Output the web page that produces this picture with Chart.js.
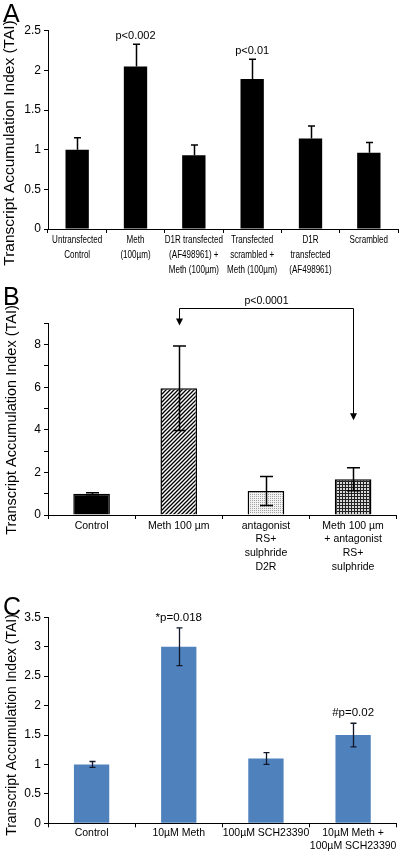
<!DOCTYPE html>
<html>
<head>
<meta charset="utf-8">
<script src="https://cdn.jsdelivr.net/npm/chart.js@4.4.1/dist/chart.umd.min.js"></script>
<style>
    body { margin: 0; background: #fff; }
    canvas { display: block; }
</style>
</head>
<body>
<canvas id="chartA" width="400" height="280"></canvas>
<canvas id="chartB" width="400" height="298"></canvas>
<canvas id="chartC" width="400" height="278"></canvas>
<script>
// panel A
const labelsA = [['Untransfected', 'Control'], ['Meth', '(100µm)'], ['D1R transfected', '(AF498961) +', 'Meth (100µm)'],
    ['Transfected', 'scrambled +', 'Meth (100µm)'], ['D1R', 'transfected', '(AF498961)'], 'Scrambled'];
const valuesA = [1.0, 2.05, 0.93, 1.89, 1.14, 0.96];
const errorsA = [0.15, 0.28, 0.13, 0.25, 0.16, 0.13];
const notesA = ['', 'p<0.002', '', 'p<0.01', '', ''];
const ticksA = [0, 0.5, 1, 1.5, 2, 2.5];
const tickLabelsA = ['0', '0.5', '1', '1.5', '2', '2.5'];

// panel B
const labelsB = ['Control', 'Meth 100 µm', ['antagonist', 'RS+', 'sulphride', 'D2R'], ['Meth 100 µm', '+ antagonist', 'RS+', 'sulphride']];
const valuesB = [1.0, 5.95, 1.13, 1.68];
const errorsB = [0.05, 1.98, 0.68, 0.54];
const ticksB = [0, 1, 2, 3, 4, 5, 6, 7, 8, 9];
const tickLabelsB = ['0', '', '2', '', '4', '', '6', '', '8', ''];
const bracketB = { from: 1, to: 3, top: 9.7, ends: [8.9, 4.45], text: 'p<0.0001', textAt: 10.06 };

// panel C
const labelsC = ['Control', '10µM Meth', '100µM SCH23390', ['10µM Meth +', '100µM SCH23390']];
const valuesC = [1.0, 3.0, 1.1, 1.5];
const errorsC = [0.05, 0.32, 0.1, 0.2];
const notesC = ['', '*p=0.018', '', '#p=0.02'];
const ticksC = [0, 0.5, 1, 1.5, 2, 2.5, 3, 3.5];
const tickLabelsC = ['0', '0.5', '1', '1.5', '2', '2.5', '3', '3.5'];

const yTitle = 'Transcript Accumulation Index (TAI)';
const FONT = '"Liberation Sans", Arial, Helvetica, sans-serif';

Chart.defaults.font.family = FONT;
Chart.defaults.color = '#000';

function pattern(kind) {
    const c = document.createElement('canvas');
    const g = c.getContext('2d');
    if (kind === 'diag') {
        c.width = c.height = 4;
        g.fillStyle = '#fff';
        g.fillRect(0, 0, 4, 4);
        g.strokeStyle = '#000';
        g.lineWidth = 1.3;
        g.beginPath();
        g.moveTo(0, 4); g.lineTo(4, 0);
        g.moveTo(-1, 1); g.lineTo(1, -1);
        g.moveTo(3, 5); g.lineTo(5, 3);
        g.stroke();
    } else if (kind === 'dots') {
        c.width = c.height = 2;
        g.fillStyle = '#f2f2f2';
        g.fillRect(0, 0, 2, 2);
        g.fillStyle = '#a0a0a0';
        g.fillRect(0, 0, 1, 1);
    } else {
        c.width = c.height = 3;
        g.fillStyle = '#d8d8d8';
        g.fillRect(0, 0, 3, 3);
        g.fillStyle = '#222';
        g.fillRect(0, 0, 3, 1);
        g.fillRect(0, 0, 1, 3);
    }
    return g.createPattern(c, 'repeat');
}

const errorBars = {
    id: 'errorBars',
    afterDatasetsDraw(chart, args, opts) {
        const { ctx, scales: { y } } = chart;
        const ds = chart.data.datasets[0];
        const meta = chart.getDatasetMeta(0);
        ctx.save();
        ctx.strokeStyle = opts.color;
        ctx.lineWidth = opts.width;
        meta.data.forEach((bar, i) => {
            const v = ds.data[i], e = opts.errors[i];
            const cx = Math.round(bar.x) + 0.5;
            const top = y.getPixelForValue(v + e);
            const bottom = y.getPixelForValue(opts.upOnly ? v : v - e);
            ctx.beginPath();
            ctx.moveTo(cx, top);
            ctx.lineTo(cx, bottom);
            ctx.moveTo(cx - opts.cap / 2, top);
            ctx.lineTo(cx + opts.cap / 2, top);
            if (!opts.upOnly) {
                ctx.moveTo(cx - opts.cap / 2, bottom);
                ctx.lineTo(cx + opts.cap / 2, bottom);
            }
            ctx.stroke();
        });
        ctx.restore();
    }
};

const notes = {
    id: 'notes',
    afterDatasetsDraw(chart, args, opts) {
        if (!opts.texts) return;
        const { ctx, scales: { y } } = chart;
        const ds = chart.data.datasets[0];
        const meta = chart.getDatasetMeta(0);
        ctx.save();
        ctx.font = opts.size + 'px ' + FONT;
        ctx.fillStyle = '#000';
        ctx.textAlign = 'center';
        ctx.textBaseline = 'middle';
        opts.texts.forEach((t, i) => {
            if (!t) return;
            const top = y.getPixelForValue(ds.data[i] + opts.errors[i]);
            ctx.fillText(t, meta.data[i].x, top - opts.gap);
        });
        ctx.restore();
    }
};

const bracket = {
    id: 'bracket',
    afterDraw(chart, args, opts) {
        if (!opts.text) return;
        const { ctx, scales: { x, y } } = chart;
        const x1 = Math.round(x.getPixelForValue(opts.from)) + 0.5;
        const x2 = Math.round(x.getPixelForValue(opts.to)) + 0.5;
        const top = Math.round(y.getPixelForValue(opts.top)) + 0.5;
        const tips = opts.ends.map(v => y.getPixelForValue(v));
        ctx.save();
        ctx.strokeStyle = '#000';
        ctx.fillStyle = '#000';
        ctx.lineWidth = 1;
        ctx.beginPath();
        ctx.moveTo(x1, tips[0] - 6);
        ctx.lineTo(x1, top);
        ctx.lineTo(x2, top);
        ctx.lineTo(x2, tips[1] - 6);
        ctx.stroke();
        [[x1, tips[0]], [x2, tips[1]]].forEach(([px, py]) => {
            ctx.beginPath();
            ctx.moveTo(px - 3.5, py - 7);
            ctx.lineTo(px + 3.5, py - 7);
            ctx.lineTo(px, py);
            ctx.closePath();
            ctx.fill();
        });
        ctx.font = '10.5px ' + FONT;
        ctx.textAlign = 'center';
        ctx.textBaseline = 'middle';
        ctx.fillText(opts.text, (x1 + x2) / 2, y.getPixelForValue(opts.textAt));
        ctx.restore();
    }
};

// narrow category labels (panel A uses a condensed face)
const squeezedLabels = {
    id: 'squeezedLabels',
    afterDraw(chart, args, opts) {
        if (!opts.scaleX) return;
        const { ctx, scales: { x } } = chart;
        ctx.save();
        ctx.font = opts.size + 'px ' + FONT;
        ctx.fillStyle = '#000';
        ctx.textAlign = 'center';
        ctx.textBaseline = 'middle';
        chart.data.labels.forEach((lab, i) => {
            const px = x.getPixelForValue(i);
            [].concat(lab).forEach((line, j) => {
                ctx.save();
                ctx.translate(px, x.top + opts.offset + j * opts.lineHeight);
                ctx.scale(opts.scaleX, 1);
                ctx.fillText(line, 0, 0);
                ctx.restore();
            });
        });
        ctx.restore();
    }
};

const panelText = {
    id: 'panelText',
    afterDraw(chart, args, opts) {
        const ctx = chart.ctx;
        ctx.save();
        ctx.fillStyle = '#000';
        ctx.font = '25px ' + FONT;
        ctx.textAlign = 'left';
        ctx.textBaseline = 'alphabetic';
        ctx.fillText(opts.letter, 3, opts.letterY);
        ctx.translate(opts.titleX, opts.titleY);
        ctx.rotate(-Math.PI / 2);
        ctx.font = opts.titleSize + 'px ' + FONT;
        ctx.textAlign = 'center';
        ctx.textBaseline = 'middle';
        ctx.fillText(yTitle, 0, 0);
        ctx.restore();
    }
};

function yScale(ticks, tickLabels, size) {
    return {
        min: ticks[0],
        max: ticks[ticks.length - 1],
        afterBuildTicks: (s) => { s.ticks = ticks.map(v => ({ value: v })); },
        afterFit: (s) => { s.width = 48; },
        ticks: {
            color: '#000',
            font: { size: size },
            padding: 3,
            callback: (v, i) => tickLabels[i]
        },
        grid: { drawOnChartArea: false, tickLength: 4, color: '#000' },
        border: { color: '#000', width: 1 }
    };
}

function xScale(height, font) {
    return {
        afterFit: (s) => { s.height = height; },
        ticks: { display: !!font, color: '#000', font: font, padding: 0, maxRotation: 0, minRotation: 0, autoSkip: false },
        grid: { drawOnChartArea: false, tickLength: 4, color: '#000', offset: true },
        border: { color: '#000', width: 1 }
    };
}

function baseOptions(padding) {
    return {
        responsive: false,
        animation: false,
        layout: { padding: padding },
        plugins: {
            legend: { display: false },
            tooltip: { enabled: false }
        }
    };
}

// A
const optionsA = baseOptions({ top: 30.7, right: 2, left: 0, bottom: 0 });
optionsA.scales = {
    x: xScale(51, null),
    y: yScale(ticksA, tickLabelsA, 12)
};
Object.assign(optionsA.plugins, {
    errorBars: { errors: errorsA, upOnly: true, cap: 7, width: 1.5, color: '#000' },
    notes: { texts: notesA, errors: errorsA, gap: 8, size: 11 },
    squeezedLabels: { size: 11.5, scaleX: 0.7, offset: 11, lineHeight: 15 },
    panelText: { letter: 'A', letterY: 22, titleX: 10, titleY: 143, titleSize: 15.5 }
});
new Chart(document.getElementById('chartA'), {
    type: 'bar',
    data: {
        labels: labelsA,
        datasets: [{
            data: valuesA,
            backgroundColor: '#000',
            categoryPercentage: 1,
            barPercentage: 0.4
        }]
    },
    options: optionsA,
    plugins: [errorBars, notes, squeezedLabels, panelText]
});

// B
const optionsB = baseOptions({ top: 43.3, right: 3.3, left: 0, bottom: 0 });
optionsB.scales = {
    x: xScale(63, { size: 10.5, lineHeight: 1.3 }),
    y: yScale(ticksB, tickLabelsB, 12)
};
Object.assign(optionsB.plugins, {
    errorBars: { errors: errorsB, upOnly: false, cap: 13, width: 1.5, color: '#000' },
    bracket: bracketB,
    panelText: { letter: 'B', letterY: 25, titleX: 12, titleY: 140, titleSize: 14.5 }
});
new Chart(document.getElementById('chartB'), {
    type: 'bar',
    data: {
        labels: labelsB,
        datasets: [{
            data: valuesB,
            backgroundColor: ['#000', pattern('diag'), pattern('dots'), pattern('grid')],
            borderColor: '#000',
            borderWidth: 1.5,
            categoryPercentage: 1,
            barPercentage: 0.42
        }]
    },
    options: optionsB,
    plugins: [errorBars, bracket, panelText]
});

// C
const optionsC = baseOptions({ top: 39.3, right: 3.3, left: 0, bottom: 0 });
optionsC.scales = {
    x: xScale(32.7, { size: 10.5, lineHeight: 1.17 }),
    y: yScale(ticksC, tickLabelsC, 12)
};
Object.assign(optionsC.plugins, {
    errorBars: { errors: errorsC, upOnly: false, cap: 6, width: 1.3, color: '#10182a' },
    notes: { texts: notesC, errors: errorsC, gap: 10.5, size: 11.5 },
    panelText: { letter: 'C', letterY: 37, titleX: 12, titleY: 147, titleSize: 14 }
});
new Chart(document.getElementById('chartC'), {
    type: 'bar',
    data: {
        labels: labelsC,
        datasets: [{
            data: valuesC,
            backgroundColor: '#4f81bd',
            categoryPercentage: 1,
            barPercentage: 0.405
        }]
    },
    options: optionsC,
    plugins: [errorBars, notes, panelText]
});
</script>
</body>
</html>
